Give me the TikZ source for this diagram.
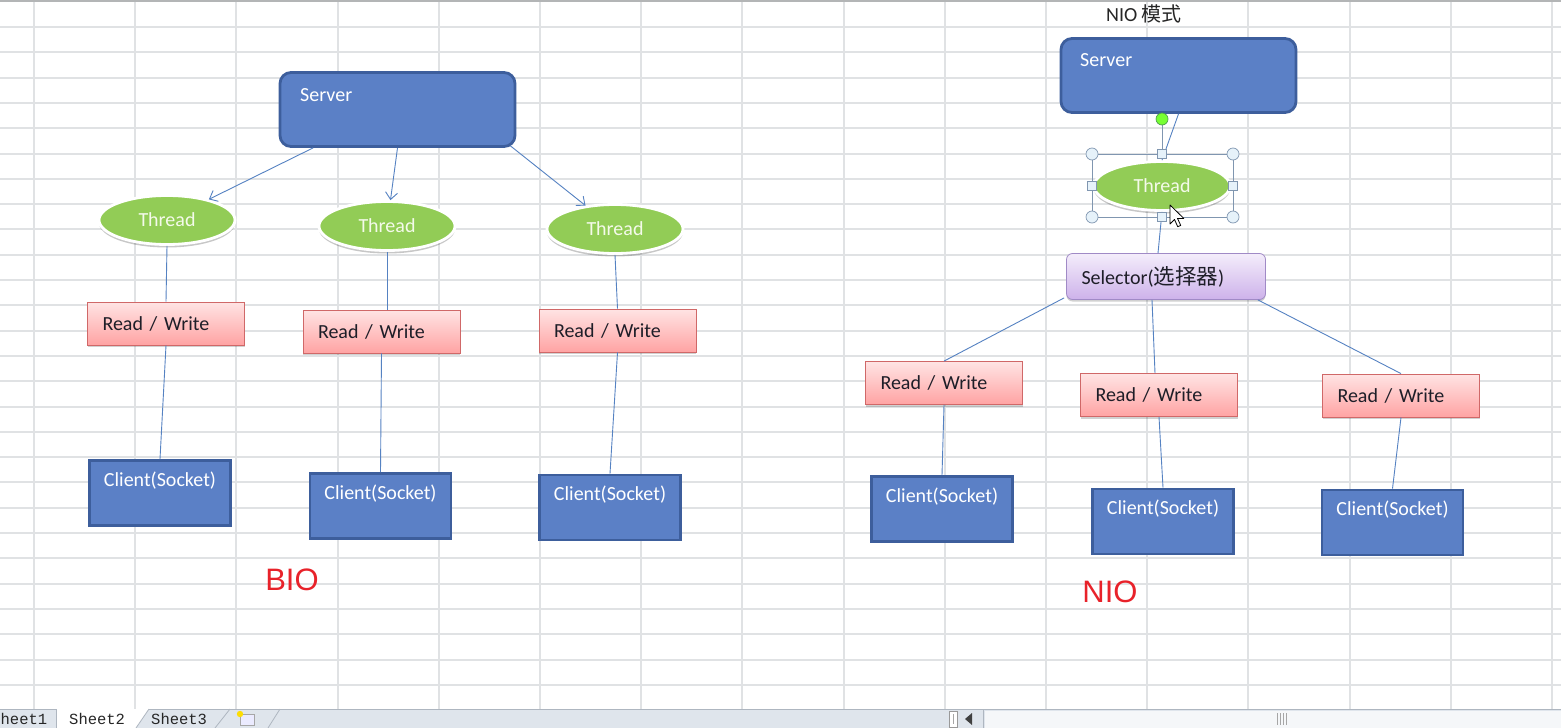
\documentclass[tikz,border=0pt]{standalone}
\usepackage{fontspec}
\setmainfont{Carlito}
\newfontfamily\cjkfont{Noto Sans CJK SC}
\newfontfamily\arialfont{Liberation Sans}
\newfontfamily\tabfont{Liberation Mono}
\usetikzlibrary{shapes.geometric,shadows,calc,arrows.meta}
\newcommand\fsz[1]{\fontsize{#1}{#1}\selectfont}
\definecolor{bluefill}{HTML}{5B80C6}
\definecolor{blueedge}{HTML}{3D5E9C}
\definecolor{threadfill}{HTML}{92CC56}
\definecolor{threadtext}{HTML}{F4FAEA}
\definecolor{rwtop}{HTML}{FFE4E4}
\definecolor{rwbot}{HTML}{FFA3A3}
\definecolor{rwedge}{HTML}{D06868}
\definecolor{seltop}{HTML}{F4EDFB}
\definecolor{selbot}{HTML}{CDB2EA}
\definecolor{seledge}{HTML}{A08AC6}
\definecolor{connc}{HTML}{5582C2}
\definecolor{gridc}{HTML}{E0E2E4}
\definecolor{textdark}{HTML}{1E1E28}
\definecolor{redlbl}{HTML}{E8222A}
\definecolor{barbg}{HTML}{DFE5EC}
\definecolor{barline}{HTML}{AEB6C0}
\definecolor{handlec}{HTML}{8096B0}
\definecolor{handlefill}{HTML}{E6F2FA}
\tikzset{
  gridline/.style={draw=gridc, line width=2pt},
  bluebox/.style={draw=blueedge, line width=2.8pt, fill=bluefill, inner sep=0pt},
  server/.style={bluebox, rectangle, rounded corners=11pt, minimum width=235pt, minimum height=74pt},
  client/.style={bluebox, rectangle, minimum width=141pt, minimum height=65pt},
  wlabel/.style={text=white, font=\fsz{20}},
  thread/.style={ellipse, fill=threadfill, draw=white, line width=2.8pt,
     minimum width=136pt, minimum height=49pt, inner sep=0pt, text=threadtext, font=\fsz{20},
     drop shadow={shadow xshift=0pt, shadow yshift=-3pt, opacity=0.22, fill=black}},
  rw/.style={rectangle, draw=rwedge, line width=0.8pt, top color=rwtop, bottom color=rwbot,
     minimum width=157pt, minimum height=43pt, text width=127pt, align=left, inner xsep=15pt,
     inner ysep=0pt, font=\fsz{20}, text=textdark,
     drop shadow={shadow xshift=0pt, shadow yshift=-2pt, opacity=0.18, fill=black}},
  selector/.style={rectangle, rounded corners=6pt, draw=seledge, line width=0.8pt,
     top color=seltop, bottom color=selbot, minimum width=199pt, minimum height=46pt,
     text width=169pt, align=left, inner xsep=15pt, inner ysep=0pt, font=\fsz{20}, text=textdark,
     drop shadow={shadow xshift=0pt, shadow yshift=-2pt, opacity=0.18, fill=black}},
  conn/.style={draw=connc, line width=0.9pt},
  arr/.style={conn, -{Straight Barb[length=7pt, width=12pt, line width=0.9pt]}},
  redtext/.style={text=redlbl, font=\arialfont\fsz{31}},
  tabtext/.style={font=\tabfont\fsz{15.5}, text=black!85, inner sep=0pt},
  handle/.style={draw=handlec, fill=handlefill, line width=0.7pt},
}
\begin{document}
\begin{tikzpicture}[x=1pt,y=-1pt]
\useasboundingbox (0,0) rectangle (1561,728);
\fill[white] (0,0) rectangle (1561,728);
% grid
\foreach \k in {0,...,15} {
  \pgfmathsetmacro\gx{round(34+101.2*\k)}
  \draw[gridline] (\gx,0) -- (\gx,709);
}
\foreach \k in {0,...,26} {
  \pgfmathsetmacro\gy{round(27+25.3*\k)}
  \draw[gridline] (0,\gy) -- (1561,\gy);
}
\draw[draw=gridc!80!black, line width=2pt] (0,1) -- (1561,1);

% ---------------- BIO ----------------
\node[server, label={[wlabel, anchor=west, xshift=18pt, yshift=-24pt]north west:Server}] (bs) at (397.5,109.5) {};
\node[thread] (bt1) at (167,220) {Thread};
\node[thread] (bt2) at (387,226) {Thread};
\node[thread] (bt3) at (615,229) {Thread};
\node[rw] (brw1) at (166,323.5) {Read / Write};
\node[rw] (brw2) at (381.5,331.5) {Read / Write};
\node[rw] (brw3) at (617.5,330.5) {Read / Write};
\node[client, label={[wlabel, anchor=center, yshift=-21pt]north:Client(Socket)}] (bc1) at (160,493) {};
\node[client, label={[wlabel, anchor=center, yshift=-21pt]north:Client(Socket)}] (bc2) at (380.5,506) {};
\node[client, label={[wlabel, anchor=center, yshift=-21pt]north:Client(Socket)}] (bc3) at (610,507.5) {};

\draw[arr] ($(bs.south west)!0.145!(bs.south east)$) -- (bt1);
\draw[arr] ($(bs.south west)!0.5!(bs.south east)$) -- (bt2);
\draw[arr] ($(bs.south west)!0.975!(bs.south east)+(0,-2)$) -- (bt3);
\draw[conn] (bt1.south) -- (brw1.north);
\draw[conn] (bt2.south) -- (brw2.north -| bt2.south);
\draw[conn] (bt3.south) -- (brw3.north);
\draw[conn] (brw1.south) -- (bc1.north);
\draw[conn] (brw2.south) -- (bc2.north);
\draw[conn] (brw3.south) -- (bc3.north);
\node[redtext] (bio) at (292,580) {BIO};

% ---------------- NIO ----------------
\node[font=\fsz{20}, text=black!85] (title) at (1144,14) {NIO {\cjkfont 模式}};
\node[server, label={[wlabel, anchor=west, xshift=17pt, yshift=-23pt]north west:Server}] (ns) at (1178.5,75.5) {};
\node[thread] (nt) at (1162,186) {Thread};
\node[selector] (nsel) at (1166,276.5) {Selector({\cjkfont\fsz{21.5}选择器})};
\node[rw] (nrwA) at (944,383) {Read / Write};
\node[rw] (nrwB) at (1159,395) {Read / Write};
\node[rw] (nrwC) at (1401,395.5) {Read / Write};
\node[client, label={[wlabel, anchor=center, yshift=-21pt]north:Client(Socket)}] (ncA) at (942,509) {};
\node[client, label={[wlabel, anchor=center, yshift=-21pt]north:Client(Socket)}] (ncB) at (1163,521.5) {};
\node[client, label={[wlabel, anchor=center, yshift=-21pt]north:Client(Socket)}] (ncC) at (1392.5,522.5) {};

\draw[conn] (ns.south) -- (nt.north);
\draw[conn] (nt.south) -- ($(nsel.north)+(-8,0)$);
\draw[conn] ($(nsel.south west)+(-2,-2)$) -- (nrwA.north);
\draw[conn] ($(nsel.south)+(-14,0)$) -- ($(nrwB.north)+(-4,0)$);
\draw[conn] ($(nsel.south east)+(-8,0)$) -- (nrwC.north);
\draw[conn] (nrwA.south) -- (ncA.north);
\draw[conn] (nrwB.south) -- (ncB.north);
\draw[conn] (nrwC.south) -- (ncC.north);
\node[redtext] (nio) at (1110,592) {NIO};

% selection handles around NIO thread
\coordinate (hNW) at ($(nt.center)+(-70,-32)$);
\coordinate (hSE) at ($(nt.center)+(71,31)$);
\coordinate (hN) at ($(nt.center)+(0,-32)$);
\coordinate (hS) at ($(nt.center)+(0,31)$);
\coordinate (hW) at ($(nt.center)+(-70,-0.5)$);
\coordinate (hE) at ($(nt.center)+(71,-0.5)$);
\coordinate (hNE) at (hSE |- hNW);
\coordinate (hSW) at (hNW |- hSE);
\coordinate (hRot) at ($(nt.center)+(0,-67)$);
\draw[draw=handlec, line width=0.8pt] (hNW) rectangle (hSE);
\draw[draw=handlec, line width=0.8pt] (hRot) -- (hN);
\foreach \c in {hNW,hNE,hSW,hSE} \filldraw[handle] (\c) circle (6pt);
\foreach \c in {hN,hS,hW,hE} \filldraw[handle] ($(\c)+(-4.5,-4.5)$) rectangle ($(\c)+(4.5,4.5)$);
\filldraw[draw=green!45!black!70, fill=green!55!lime!80!white, line width=0.7pt] (hRot) circle (6pt);
% mouse cursor
\filldraw[fill=white, draw=black, line width=0.8pt, line join=round]
  (1170,205) -- ++(0,19) -- ++(4.5,-4.5) -- ++(3.2,7.2) -- ++(3,-1.3) -- ++(-3.2,-7) -- ++(6.3,0) -- cycle;

% ---------------- bottom bar ----------------
\fill[barbg] (0,709) rectangle (1561,728);
\fill[white!70!barbg] (985,711) rectangle (1561,728);
\fill[white] (56,709) -- (56,728) -- (136,728) -- (149,709) -- cycle;
\draw[barline, line width=1pt] (0,709.5) -- (56,709.5);
\draw[barline, line width=1pt] (149,709.5) -- (1561,709.5);
\draw[barline, line width=0.8pt] (56,709) -- (56,728);
\draw[barline, line width=0.8pt] (136,728) -- (149,709);
\draw[barline, line width=0.8pt] (215,728) -- (230,709);
\draw[barline, line width=0.8pt] (268,728) -- (280,709);
\node[tabtext, anchor=west] (tab1) at (0.5,719) {heet1};
\node[tabtext, anchor=west] (tab2) at (69,719) {Sheet2};
\node[tabtext, anchor=west] (tab3) at (151,719) {Sheet3};
\filldraw[draw=gray!70, fill=blue!8, line width=0.6pt] (240,714) rectangle (254,725);
\fill[yellow!80!orange] (240,714) circle (3.2pt);
% scroll controls
\filldraw[draw=gray!80, fill=white, line width=0.6pt] (949,711) rectangle (957,727);
\draw[gray!70, line width=1pt] (953,714) -- (953,724);
\fill[black!75] (965,719) -- (972,713) -- (972,725) -- cycle;
\draw[barline, line width=0.8pt] (983,710) -- (983,728);
\foreach \g in {1277,1280,1283,1286} \draw[gray!70, line width=0.9pt] (\g,713) -- (\g,725);
\end{tikzpicture}
\end{document}
